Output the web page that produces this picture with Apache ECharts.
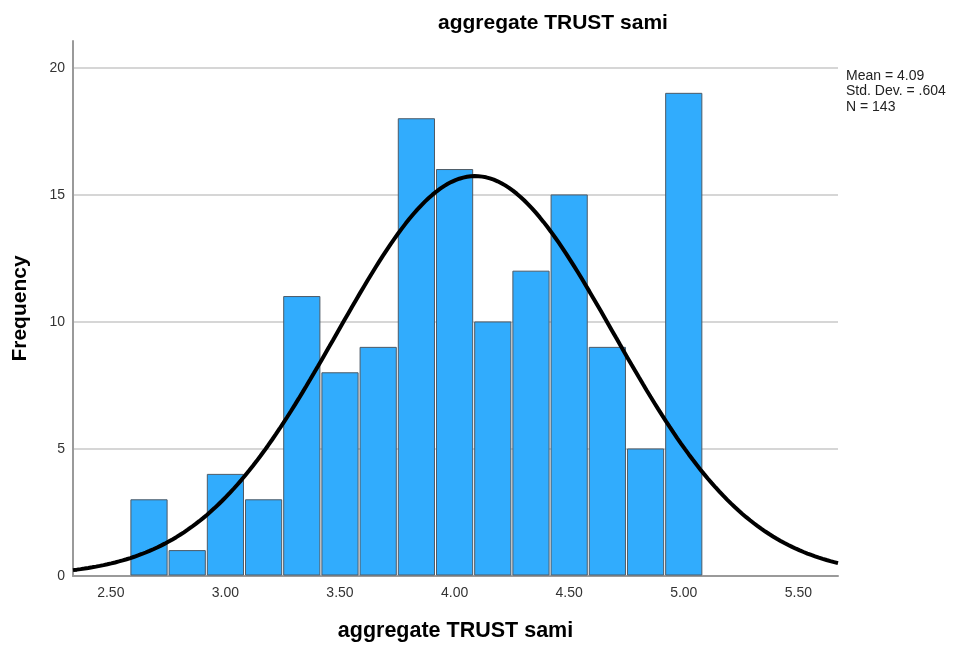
<!DOCTYPE html>
<html>
<head>
<meta charset="utf-8">
<script src="https://cdn.jsdelivr.net/npm/echarts@6/dist/echarts.min.js"></script>
<style>
  html, body { margin: 0; padding: 0; background: #fff; }
  #chart { width: 953px; height: 645px; }
</style>
</head>
<body>
<div id="chart"></div>
<script>
// Histogram bins: lower and upper edges and counts
const binLower = [2.5833, 2.75, 2.9167, 3.0833, 3.25, 3.4167, 3.5833, 3.75, 3.9167, 4.0833, 4.25, 4.4167, 4.5833, 4.75, 4.9167];
const binUpper = [2.75, 2.9167, 3.0833, 3.25, 3.4167, 3.5833, 3.75, 3.9167, 4.0833, 4.25, 4.4167, 4.5833, 4.75, 4.9167, 5.0833];
const counts   = [3, 1, 4, 3, 11, 8, 9, 18, 16, 10, 12, 15, 9, 5, 19];

// Summary statistics shown beside the plot
const mean = 4.09;
const stdDev = 0.604;
const nTotal = 143;
const binWidth = 1 / 6;

// Axis tick labels
const xTicks = [2.5, 3.0, 3.5, 4.0, 4.5, 5.0, 5.5];
const xMin = 2.335, xMax = 5.673;
const yMax = 21.06;

// Fitted normal curve, scaled to counts per bin
const curve = [];
const steps = 200;
for (let i = 0; i <= steps; i++) {
  const x = xMin + (xMax - xMin) * i / steps;
  const z = (x - mean) / stdDev;
  const y = nTotal * binWidth * Math.exp(-0.5 * z * z) / (stdDev * Math.sqrt(2 * Math.PI));
  curve.push([x, y]);
}

const barData = counts.map((c, i) => [binLower[i], binUpper[i], c]);

const font = '"Liberation Sans", Arial, sans-serif';
const chart = echarts.init(document.getElementById('chart'), null, { renderer: 'canvas' });

chart.setOption({
  animation: false,
  backgroundColor: '#ffffff',
  title: {
    text: 'aggregate TRUST sami',
    left: 433,
    top: 8,
    textStyle: { fontFamily: font, fontSize: 21, fontWeight: 'bold', color: '#000' }
  },
  grid: { left: 73, right: 115, top: 41, bottom: 69, containLabel: false, outerBoundsMode: 'none' },
  xAxis: {
    type: 'value',
    min: xMin,
    max: xMax,
    name: 'aggregate TRUST sami',
    nameLocation: 'middle',
    nameGap: 44,
    nameTextStyle: { fontFamily: font, fontSize: 21.5, fontWeight: 'bold', color: '#000' },
    axisLine: { show: true, lineStyle: { color: '#9a9a9a', width: 2 } },
    axisTick: { show: false },
    splitLine: { show: false },
    axisLabel: {
      customValues: xTicks,
      formatter: v => v.toFixed(2),
      fontFamily: font, fontSize: 14, color: '#333', margin: 10
    }
  },
  yAxis: {
    type: 'value',
    min: 0,
    max: yMax,
    interval: 5,
    name: 'Frequency',
    nameLocation: 'middle',
    nameGap: 42,
    nameTextStyle: { fontFamily: font, fontSize: 21, fontWeight: 'bold', color: '#000' },
    axisLine: { show: true, lineStyle: { color: '#9a9a9a', width: 2 } },
    axisTick: { show: false },
    axisLabel: { fontFamily: font, fontSize: 14, color: '#333', margin: 8, showMaxLabel: false },
    splitLine: { show: true, showMinLine: false, showMaxLine: false, lineStyle: { color: '#d6d6d6', width: 2 } }
  },
  graphic: [{
    type: 'text',
    left: 846,
    top: 68,
    style: {
      text: 'Mean = ' + mean.toFixed(2) + '\nStd. Dev. = .604\nN = ' + nTotal,
      font: '14px ' + font,
      lineHeight: 15.5,
      fill: '#222'
    }
  }],
  series: [
    {
      type: 'custom',
      data: barData,
      renderItem: function (params, api) {
        const p0 = api.coord([api.value(0), api.value(2)]);
        const p1 = api.coord([api.value(1), 0]);
        return {
          type: 'rect',
          shape: { x: p0[0] + 1, y: p0[1], width: p1[0] - p0[0] - 2, height: p1[1] - p0[1] - 1 },
          style: { fill: '#31acfd', stroke: '#4d5a66', lineWidth: 1 }
        };
      },
      encode: { x: [0, 1], y: 2 },
      z: 2
    },
    {
      type: 'line',
      data: curve,
      showSymbol: false,
      smooth: false,
      lineStyle: { color: '#000', width: 4 },
      z: 3
    }
  ]
});
</script>
</body>
</html>
